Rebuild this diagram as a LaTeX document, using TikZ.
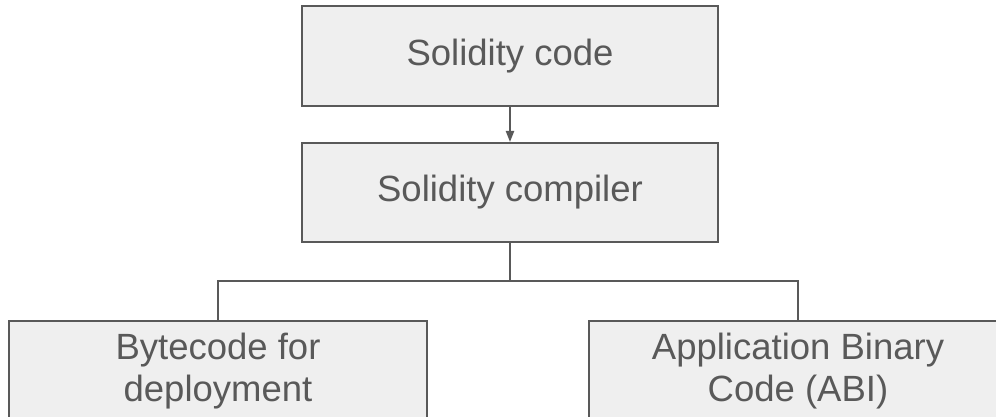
\documentclass[tikz,border=0pt]{standalone}
\usepackage{fontspec}
\setmainfont{Liberation Sans}
\usetikzlibrary{arrows.meta}
\definecolor{boxfill}{HTML}{EFEFEF}
\definecolor{boxline}{HTML}{595959}

\begin{document}
\begin{tikzpicture}[x=1pt, y=-1pt,
	every node/.style={font=\fontsize{36.5}{42}\selectfont, text=boxline},
	stage/.style={draw=boxline, fill=boxfill, line width=2pt, inner sep=0pt,
		minimum width=416pt, minimum height=100pt, align=center},
	link/.style={draw=boxline, line width=2pt}]
	\useasboundingbox (0,0) rectangle (996,417);
	\node[stage] (code) at (510,56) {Solidity code};
	\node[stage, minimum height=99pt] (compiler) at (510,192.5) {Solidity compiler};
	\node[stage, minimum width=418pt] (bytecode) at (218,371) {Bytecode for\\deployment};
	\node[stage, minimum width=418pt] (abi) at (798,371) {Application Binary\\Code (ABI)};
	\coordinate (split) at (510,281);
	\draw[link, -{Triangle[width=8pt, length=11pt]}] (code) -- (compiler);
	\draw[link] (compiler) -- (split) -| (bytecode);
	\draw[link] (split) -| (abi);
\end{tikzpicture}
\end{document}
